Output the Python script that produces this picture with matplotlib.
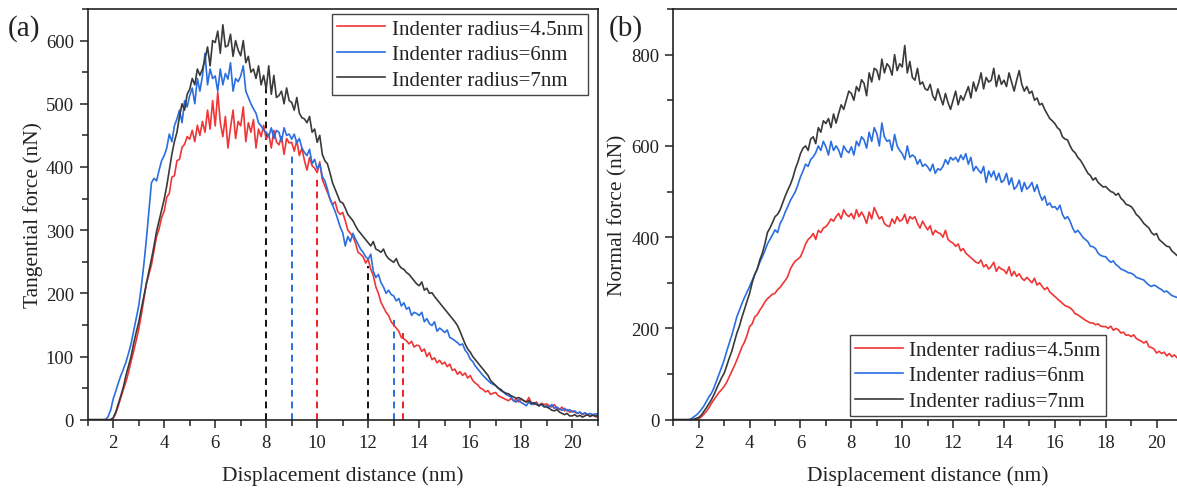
import numpy as np
import matplotlib
matplotlib.use("Agg")
import matplotlib.pyplot as plt
from matplotlib.ticker import MultipleLocator

plt.rcParams["font.family"] = ["Liberation Serif", "DejaVu Serif"]

# displacement grid (nm), one sample every 0.1 nm from 1 to 21
DISP = np.round(np.arange(10, 211) / 10.0, 1)

LABELS = ["Indenter radius=4.5nm", "Indenter radius=6nm", "Indenter radius=7nm"]
COLORS = ["#f03535", "#2a6ee0", "#3a3a3a"]

# (a) tangential force (nN)
TAN_R45 = [
    0, 0, 0, 0, 0, 0, 0, 0, 0, 0,
    2, 10, 22, 35, 48, 60, 75, 92, 108, 125,
    143, 165, 190, 215, 230, 245, 268, 290, 302, 320,
    330, 352, 358, 384, 386, 410, 412, 431, 436, 448,
    444, 458, 440, 466, 450, 472, 455, 490, 460, 505,
    465, 518, 470, 448, 480, 430, 462, 490, 445, 472,
    465, 495, 440, 470, 455, 475, 430, 460, 448, 466,
    444, 452, 430, 458, 440, 435, 448, 420, 445, 438,
    439, 425, 442, 418, 430, 410, 395, 415, 402, 398,
    391, 408, 380, 370, 360, 350, 340, 345, 330, 325,
    328, 315, 300, 295, 290, 280, 265, 262, 258, 248,
    254, 238, 228, 210, 200, 186, 178, 170, 165, 155,
    150, 145, 140, 130, 128, 125, 120, 124, 115, 118,
    117, 108, 112, 100, 106, 95, 98, 90, 94, 88,
    91, 84, 88, 78, 80, 72, 76, 70, 74, 66,
    70, 62, 58, 55, 50, 48, 44, 46, 40, 42,
    43, 38, 36, 34, 32, 30, 34, 30, 32, 28,
    33, 30, 28, 35, 26, 24, 28, 22, 26, 24,
    25, 22, 20, 24, 18, 16, 20, 14, 16, 12,
    14, 12, 10, 12, 8, 10, 8, 6, 8, 5,
    4,
]
TAN_R6 = [
    0, 0, 0, 0, 0, 0, 0, 0, 5, 15,
    33, 45, 58, 70, 80, 91, 105, 120, 140, 160,
    180, 210, 245, 285, 330, 375, 382, 378, 395, 410,
    418, 430, 452, 440, 465, 476, 490, 470, 505, 495,
    513, 525, 500, 540, 520, 544, 580, 530, 555, 540,
    544, 520, 555, 530, 548, 539, 565, 520, 540, 535,
    544, 560, 520, 510, 500, 492, 485, 470, 465, 458,
    455, 448, 462, 445, 458, 455, 440, 462, 450, 452,
    444, 452, 438, 445, 430, 423, 418, 428, 405, 412,
    397, 405, 385, 378, 365, 349, 340, 330, 318, 305,
    296, 275, 290, 282, 295, 286, 278, 270, 265, 258,
    254, 262, 235, 225, 230, 217, 210, 200, 205, 198,
    196, 188, 192, 180, 185, 175, 178, 165, 170, 168,
    165, 170, 155, 160, 152, 149, 155, 140, 145, 142,
    138, 142, 130, 128, 125, 122, 118, 120, 110, 105,
    96, 92, 85, 80, 75, 70, 66, 62, 58, 56,
    54, 50, 46, 44, 40, 38, 36, 30, 28, 32,
    27, 25, 22, 28, 24, 25, 26, 22, 24, 20,
    22, 20, 24, 18, 20, 17, 15, 18, 14, 16,
    12, 14, 10, 12, 9, 11, 8, 10, 8, 9,
    9,
]
TAN_R7 = [
    0, 0, 0, 0, 0, 0, 0, 0, 0, 0,
    3, 12, 25, 38, 52, 70, 85, 100, 120, 138,
    154, 175, 195, 215, 235, 254, 275, 298, 315, 332,
    349, 370, 395, 420, 440, 455, 480, 500, 490, 515,
    523, 540, 530, 555, 545, 555, 570, 590, 560, 600,
    597, 615, 580, 625, 590, 592, 610, 575, 600, 585,
    576, 600, 565, 575, 550, 555, 540, 560, 530, 545,
    523, 560, 515, 545, 510, 513, 520, 500, 525, 505,
    502, 490, 510, 485, 478, 476, 470, 480, 455, 460,
    439, 450, 420, 410, 405, 391, 375, 365, 355, 345,
    343, 335, 325, 320, 315, 307, 300, 295, 290, 285,
    280, 275, 282, 270, 268, 265, 270, 260, 255, 252,
    249, 255, 245, 240, 238, 233, 230, 225, 220, 215,
    212, 218, 205, 208, 200, 201, 195, 190, 185, 180,
    175, 170, 165, 160, 155, 149, 140, 130, 120, 112,
    107, 100, 95, 90, 85, 80, 75, 70, 62, 58,
    54, 50, 48, 44, 42, 41, 38, 36, 34, 35,
    33, 30, 28, 30, 26, 27, 24, 22, 25, 21,
    20, 18, 15, 14, 16, 12, 10, 8, 10, 6,
    6, 8, 5, 7, 4, 6, 8, 5, 7, 6,
    6,
]

# (b) normal force (nN)
NOR_R45 = [
    0, 0, 0, 0, 0, 0, 0, 0, 0, 0,
    2, 6, 12, 18, 26, 36, 44, 52, 60, 66,
    73, 82, 94, 106, 118, 131, 145, 160, 170, 185,
    204, 210, 225, 230, 240, 248, 258, 265, 270, 275,
    277, 285, 290, 298, 305, 314, 330, 340, 348, 352,
    357, 370, 385, 395, 400, 408, 395, 415, 410, 420,
    423, 430, 440, 435, 445, 452, 440, 460, 450, 445,
    452, 440, 460, 445, 455, 445, 430, 455, 440, 465,
    452, 440, 445, 430, 425, 423, 440, 430, 445, 435,
    438, 450, 430, 445, 440, 445, 430, 420, 435, 425,
    416, 425, 405, 415, 410, 408, 400, 415, 395, 390,
    387, 380, 385, 370, 375, 365, 360, 355, 350, 345,
    343, 350, 335, 340, 330, 336, 345, 325, 335, 330,
    328, 320, 335, 315, 325, 314, 320, 310, 305, 312,
    306, 300, 310, 295, 300, 292, 285, 290, 280, 275,
    270, 265, 260, 255, 250, 248, 245, 240, 232, 230,
    226, 222, 218, 215, 212, 212, 208, 210, 205, 204,
    204, 200, 205, 196, 200, 197, 190, 192, 185, 186,
    182, 186, 178, 175, 172, 168, 172, 160, 158, 155,
    146, 150, 145, 148, 140, 145, 138, 142, 136, 135,
    135,
]
NOR_R6 = [
    0, 0, 0, 0, 0, 0, 0, 2, 6, 10,
    15, 22, 30, 40, 50, 58, 70, 85, 100, 115,
    131, 150, 168, 185, 205, 226, 240, 255, 268, 280,
    292, 305, 318, 330, 345, 357, 370, 385, 395, 405,
    416, 410, 430, 440, 455, 467, 480, 490, 500, 515,
    532, 545, 560, 555, 570, 576, 585, 600, 590, 610,
    598, 580, 610, 590, 600, 591, 575, 600, 590, 585,
    598, 580, 610, 600, 620, 613, 595, 630, 610, 640,
    627, 600, 650, 620, 610, 613, 590, 625, 600, 590,
    583, 570, 600, 575, 580, 576, 560, 570, 555, 560,
    554, 545, 560, 540, 550, 547, 555, 570, 560, 575,
    569, 575, 565, 580, 570, 583, 560, 575, 545, 555,
    547, 540, 555, 520, 545, 532, 545, 525, 540, 520,
    525, 540, 515, 530, 505, 511, 525, 500, 520, 505,
    511, 520, 500, 515, 495, 481, 490, 470, 475, 465,
    467, 460, 470, 450, 440, 445, 435, 420, 410, 415,
    408, 400, 395, 390, 380, 379, 375, 365, 360, 358,
    357, 350, 345, 348, 340, 336, 330, 328, 325, 322,
    321, 318, 312, 310, 308, 306, 300, 295, 292, 295,
    292, 288, 285, 280, 282, 277, 272, 270, 268, 265,
    263,
]
NOR_R7 = [
    0, 0, 0, 0, 0, 0, 0, 0, 1, 3,
    5, 10, 18, 26, 35, 44, 55, 68, 80, 92,
    102, 118, 135, 150, 170, 190, 205, 225, 242, 260,
    277, 300, 318, 330, 350, 365, 385, 410, 420, 432,
    445, 450, 460, 475, 490, 503, 515, 530, 550, 565,
    583, 595, 600, 590, 615, 620, 605, 640, 630, 655,
    649, 660, 640, 670, 650, 671, 690, 680, 700, 720,
    715, 700, 730, 720, 745, 737, 710, 760, 740, 770,
    766, 745, 790, 760, 780, 773, 755, 800, 765, 780,
    773, 820, 760, 785, 750, 744, 770, 735, 740, 725,
    722, 735, 710, 700, 725, 707, 690, 715, 695, 680,
    700, 720, 690, 710, 700, 715, 730, 705, 740, 720,
    737, 760, 725, 750, 740, 744, 770, 730, 755, 735,
    744, 730, 760, 740, 720, 744, 765, 735, 720, 730,
    715, 720, 700, 705, 690, 693, 680, 670, 660, 655,
    649, 640, 635, 620, 615, 613, 600, 590, 585, 575,
    569, 560, 550, 540, 535, 525, 530, 520, 515, 510,
    511, 505, 500, 498, 492, 496, 485, 480, 472, 470,
    467, 460, 450, 445, 438, 430, 425, 420, 410, 405,
    408, 395, 390, 385, 380, 379, 370, 365, 360, 358,
    357,
]

# critical displacements marked in (a)
MARK_X = [8.0, 9.0, 10.0, 12.0, 13.0, 13.35]
MARK_TOP = [534, 418, 381, 244, 162, 138]
MARK_COLOR = ["#111111", "#2a6ee0", "#f02020", "#111111", "#2a6ee0", "#f02020"]


def style_axes(ax, ymax, ymajor, ylabel):
    ax.set_xlim(1, 21)
    ax.set_ylim(0, ymax)
    ax.xaxis.set_major_locator(MultipleLocator(2))
    ax.xaxis.set_minor_locator(MultipleLocator(1))
    ax.yaxis.set_major_locator(MultipleLocator(ymajor))
    ax.yaxis.set_minor_locator(MultipleLocator(ymajor / 2))
    ax.tick_params(which="both", direction="out", width=1.1, labelsize=13.5, colors="#222222")
    ax.tick_params(which="major", length=6, pad=4)
    ax.tick_params(which="minor", length=4)
    for sp in ax.spines.values():
        sp.set_linewidth(1.2)
        sp.set_color("#222222")
    ax.set_xlabel("Displacement distance (nm)", fontsize=15.5, color="#222222")
    ax.set_ylabel(ylabel, fontsize=15.5, color="#222222")
    ax.xaxis.set_label_coords(0.5, -0.11)


fig = plt.figure(figsize=(11.77, 4.89), dpi=100)
ax1 = fig.add_axes([87.7 / 1177, 68.3 / 489, 510 / 1177, 410.7 / 489])
ax2 = fig.add_axes([673.3 / 1177, 68.3 / 489, 508.7 / 1177, 410.7 / 489])

for xm, top, c in zip(MARK_X, MARK_TOP, MARK_COLOR):
    ax1.plot([xm, xm], [0, top], color=c, lw=1.4, ls=(0, (3.5, 2.5)), zorder=1)

for ys, lab, c in zip([TAN_R45, TAN_R6, TAN_R7], LABELS, COLORS):
    ax1.plot(DISP, ys, color=c, lw=1.2, label=lab, zorder=2)
for ys, lab, c in zip([NOR_R45, NOR_R6, NOR_R7], LABELS, COLORS):
    ax2.plot(DISP, ys, color=c, lw=1.2, label=lab, zorder=2)

style_axes(ax1, 650, 100, "Tangential force (nN)")
style_axes(ax2, 900, 200, "Normal force (nN)")
ax1.yaxis.set_label_coords(-0.088, 0.5)
ax2.yaxis.set_label_coords(-0.091, 0.5)

leg_kw = dict(fontsize=15, handlelength=2.3, handletextpad=0.3, labelspacing=0.28,
              borderpad=0.25, fancybox=False, framealpha=1, edgecolor="#444444")
leg1 = ax1.legend(loc="upper right", bbox_to_anchor=(0.981, 0.988), borderaxespad=0, **leg_kw)
leg2 = ax2.legend(loc="lower left", bbox_to_anchor=(0.347, 0.009), borderaxespad=0, **leg_kw)
for lg in (leg1, leg2):
    lg.get_frame().set_linewidth(1.0)
    for t in lg.get_texts():
        t.set_color("#222222")

fig.text(8 / 1177, 1 - 29 / 489, "(a)", fontsize=21, va="center", ha="left", color="#222222")
fig.text(609 / 1177, 1 - 29 / 489, "(b)", fontsize=21, va="center", ha="left", color="#222222")

fig.savefig("out.png", dpi=100)
